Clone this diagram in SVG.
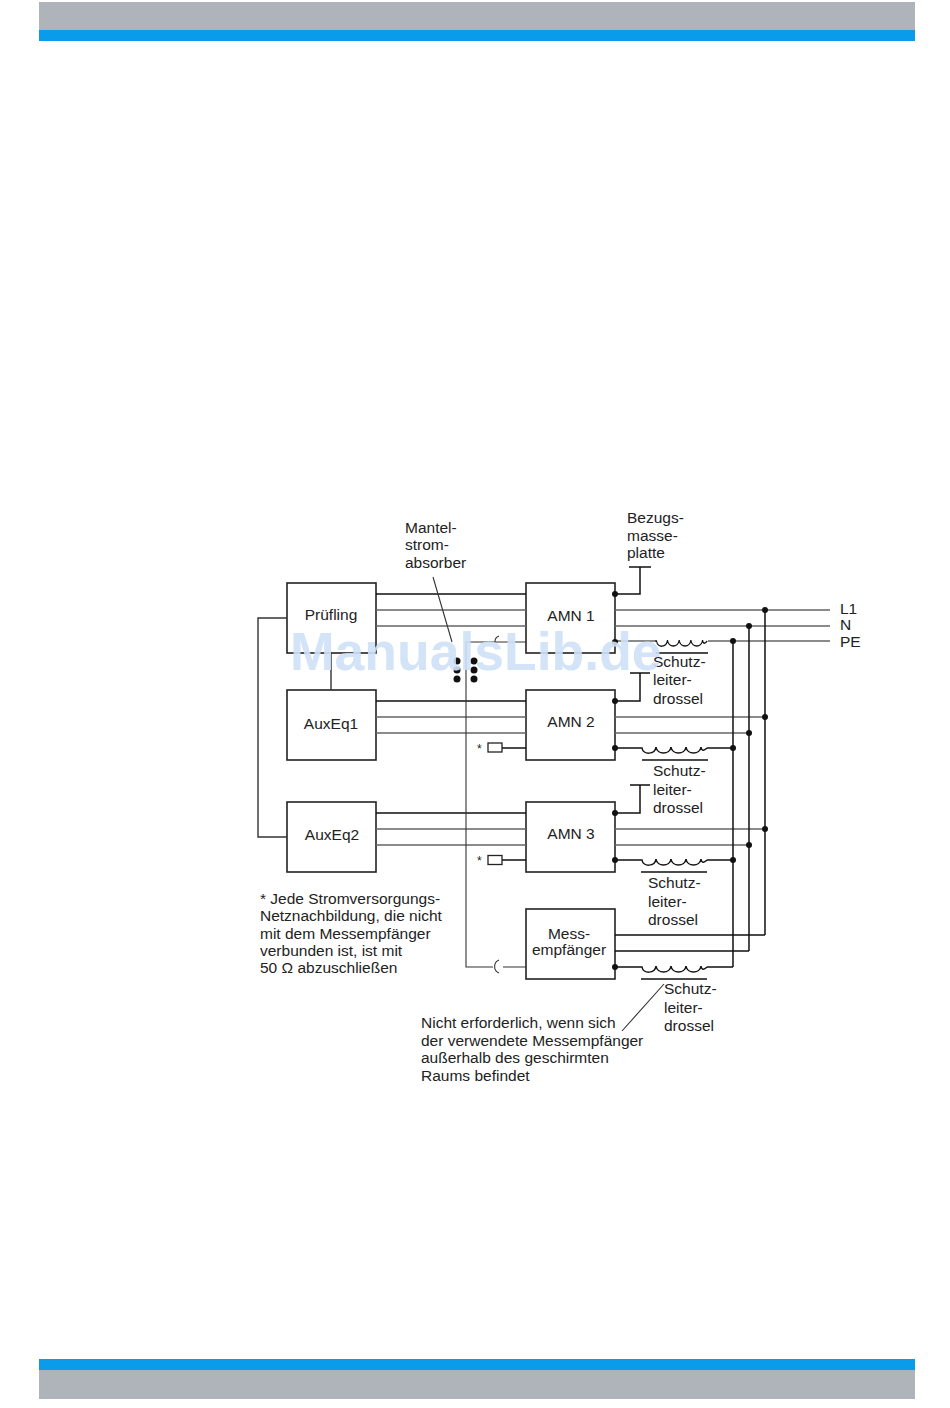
<svg xmlns="http://www.w3.org/2000/svg" width="950" height="1408" viewBox="0 0 950 1408">
<style>
text{font-family:"Liberation Sans",Arial,sans-serif;font-size:15.5px;fill:#222}
.c{text-anchor:middle}
.box{fill:#fff;stroke:#222;stroke-width:1.6}
.w{fill:none;stroke:#333;stroke-width:1.4}
.g{fill:none;stroke:#666;stroke-width:1.6}
.k{fill:none;stroke:#111;stroke-width:1.5}
.t{fill:none;stroke:#333;stroke-width:1.1}
.d{fill:#111}
.wm{font-family:"Liberation Sans",Arial,sans-serif;font-size:53.500px;font-weight:bold;fill:#cfe1f8;opacity:.9}
</style>
<defs>
<path id="coil" d="M0 0h2c1 7 13 7 14 -1M16 -1c1 8 14 8 15 0c1 8 14 8 15 0c1 8 14 8 15 0q1 6 6 1" class="k" fill="none"/>
</defs>
<g id="header"><rect x="39" y="2" width="876" height="28" fill="#aeb4b9"/><rect x="39" y="30" width="876" height="11" fill="#0a9bea"/></g>
<g id="footer"><rect x="39" y="1359" width="876" height="11" fill="#0a9bea"/><rect x="39" y="1370" width="876" height="29" fill="#aeb4b9"/></g>
<g id="pruefling"><rect class="box" x="287" y="583" width="89" height="70"/><text class="c" x="331" y="620">Prüfling</text></g>
<g id="auxeq1"><rect class="box" x="287" y="690" width="89" height="70"/><text class="c" x="331" y="729">AuxEq1</text></g>
<g id="auxeq2"><rect class="box" x="287" y="802" width="89" height="70"/><text class="c" x="332" y="840">AuxEq2</text></g>
<g id="amn1"><rect class="box" x="526" y="583" width="89" height="70"/><text class="c" x="571" y="621">AMN 1</text></g>
<g id="amn2"><rect class="box" x="526" y="690" width="89" height="70"/><text class="c" x="571" y="727">AMN 2</text></g>
<g id="amn3"><rect class="box" x="526" y="802" width="89" height="70"/><text class="c" x="571" y="839">AMN 3</text></g>
<g id="messempfaenger"><rect class="box" x="526" y="909" width="89" height="70"/><text class="c" x="569" y="939">Mess-</text><text class="c" x="569" y="955">empfänger</text></g>
<g id="connectors">
<path class="k" d="M376 594H526M376 701H526M376 813H526"/>
<path class="g" d="M376 610H526M376 626H526M376 717H526M376 733H526M376 829H526M376 845H526"/>
<path class="w" d="M287 618H258V837H287M331 653V690"/>
<path class="t" d="M466 642V967H493M466 642H526M503 967H526M433 577L452 642M664 984L622 1031"/>
<path class="t" d="M499 636a6 6 0 0 0 -4 6M499 960a7 7 0 0 0 0 13" stroke-width="1.300"/>
<path class="k" d="M502 748H526M502 860H526"/>
<path class="k" d="M615 594H640V567M629 567H651M615 701H640V673M630 673H650M615 813H640V785M630 785H650"/>
<path class="g" d="M615 610H830M615 626H830M615 641H655M708 641H830M615 717H765M615 733H749M615 829H765M615 845H749"/>
<path class="k" d="M615 748H640M707 748H733M615 860H640M707 860H733M615 935H765M615 951H749M615 967H640M707 967H733"/>
<path class="k" d="M733 641V967M749 626V951M765 610V935"/>
<use href="#coil" transform="translate(655 641) scale(.78 1)"/>
<use href="#coil" x="640" y="748"/>
<use href="#coil" x="640" y="860"/>
<use href="#coil" x="640" y="967"/>
<path class="k" d="M656 653H708M642 760H708M641 872H707M641 979H707"/>
<g class="d">
<circle cx="615" cy="594" r="3"/><circle cx="615" cy="642" r="3"/><circle cx="615" cy="701" r="3"/><circle cx="615" cy="748" r="3"/><circle cx="615" cy="813" r="3"/><circle cx="615" cy="860" r="3"/><circle cx="615" cy="967" r="3"/>
<circle cx="765" cy="610" r="3"/><circle cx="749" cy="626" r="3"/><circle cx="733" cy="641" r="3"/>
<circle cx="765" cy="717" r="3"/><circle cx="749" cy="733" r="3"/><circle cx="733" cy="748" r="3"/>
<circle cx="765" cy="829" r="3"/><circle cx="749" cy="845" r="3"/><circle cx="733" cy="860" r="3"/>
<circle cx="457" cy="661" r="3.500"/><circle cx="474" cy="661" r="3.500"/><circle cx="457" cy="670" r="3.500"/><circle cx="474" cy="670" r="3.500"/><circle cx="457" cy="679" r="3.500"/><circle cx="474" cy="679" r="3.500"/>
</g>
</g>
<g id="term2"><rect x="488" y="743" width="14" height="9" fill="#fff" stroke="#222" stroke-width="1.3"/><text x="477" y="753" style="font-size:12px">*</text></g>
<g id="term3"><rect x="488" y="855.500" width="14" height="9" fill="#fff" stroke="#222" stroke-width="1.3"/><text x="477" y="865" style="font-size:12px">*</text></g>
<g id="labels">
<text x="405" y="533">Mantel-</text><text x="405" y="550">strom-</text><text x="405" y="568">absorber</text>
<text x="627" y="523">Bezugs-</text><text x="627" y="541">masse-</text><text x="627" y="558">platte</text>
<text x="840" y="614">L1</text><text x="840" y="630">N</text><text x="840" y="647">PE</text>
<text x="653" y="667">Schutz-</text><text x="653" y="685">leiter-</text><text x="653" y="704">drossel</text>
<text x="653" y="776">Schutz-</text><text x="653" y="795">leiter-</text><text x="653" y="813">drossel</text>
<text x="648" y="888">Schutz-</text><text x="648" y="907">leiter-</text><text x="648" y="925">drossel</text>
<text x="664" y="994">Schutz-</text><text x="664" y="1013">leiter-</text><text x="664" y="1031">drossel</text>
<text x="260" y="904">* Jede Stromversorgungs-</text><text x="260" y="921">Netznachbildung, die nicht</text><text x="260" y="939">mit dem Messempfänger</text><text x="260" y="956">verbunden ist, ist mit</text><text x="260" y="973">50 Ω abzuschließen</text>
<text x="421" y="1028">Nicht erforderlich, wenn sich</text><text x="421" y="1046">der verwendete Messempfänger</text><text x="421" y="1063">außerhalb des geschirmten</text><text x="421" y="1081">Raums befindet</text>
</g>
<g id="watermark"><text class="wm" x="290" y="670">ManualsLib.de</text></g>
</svg>
